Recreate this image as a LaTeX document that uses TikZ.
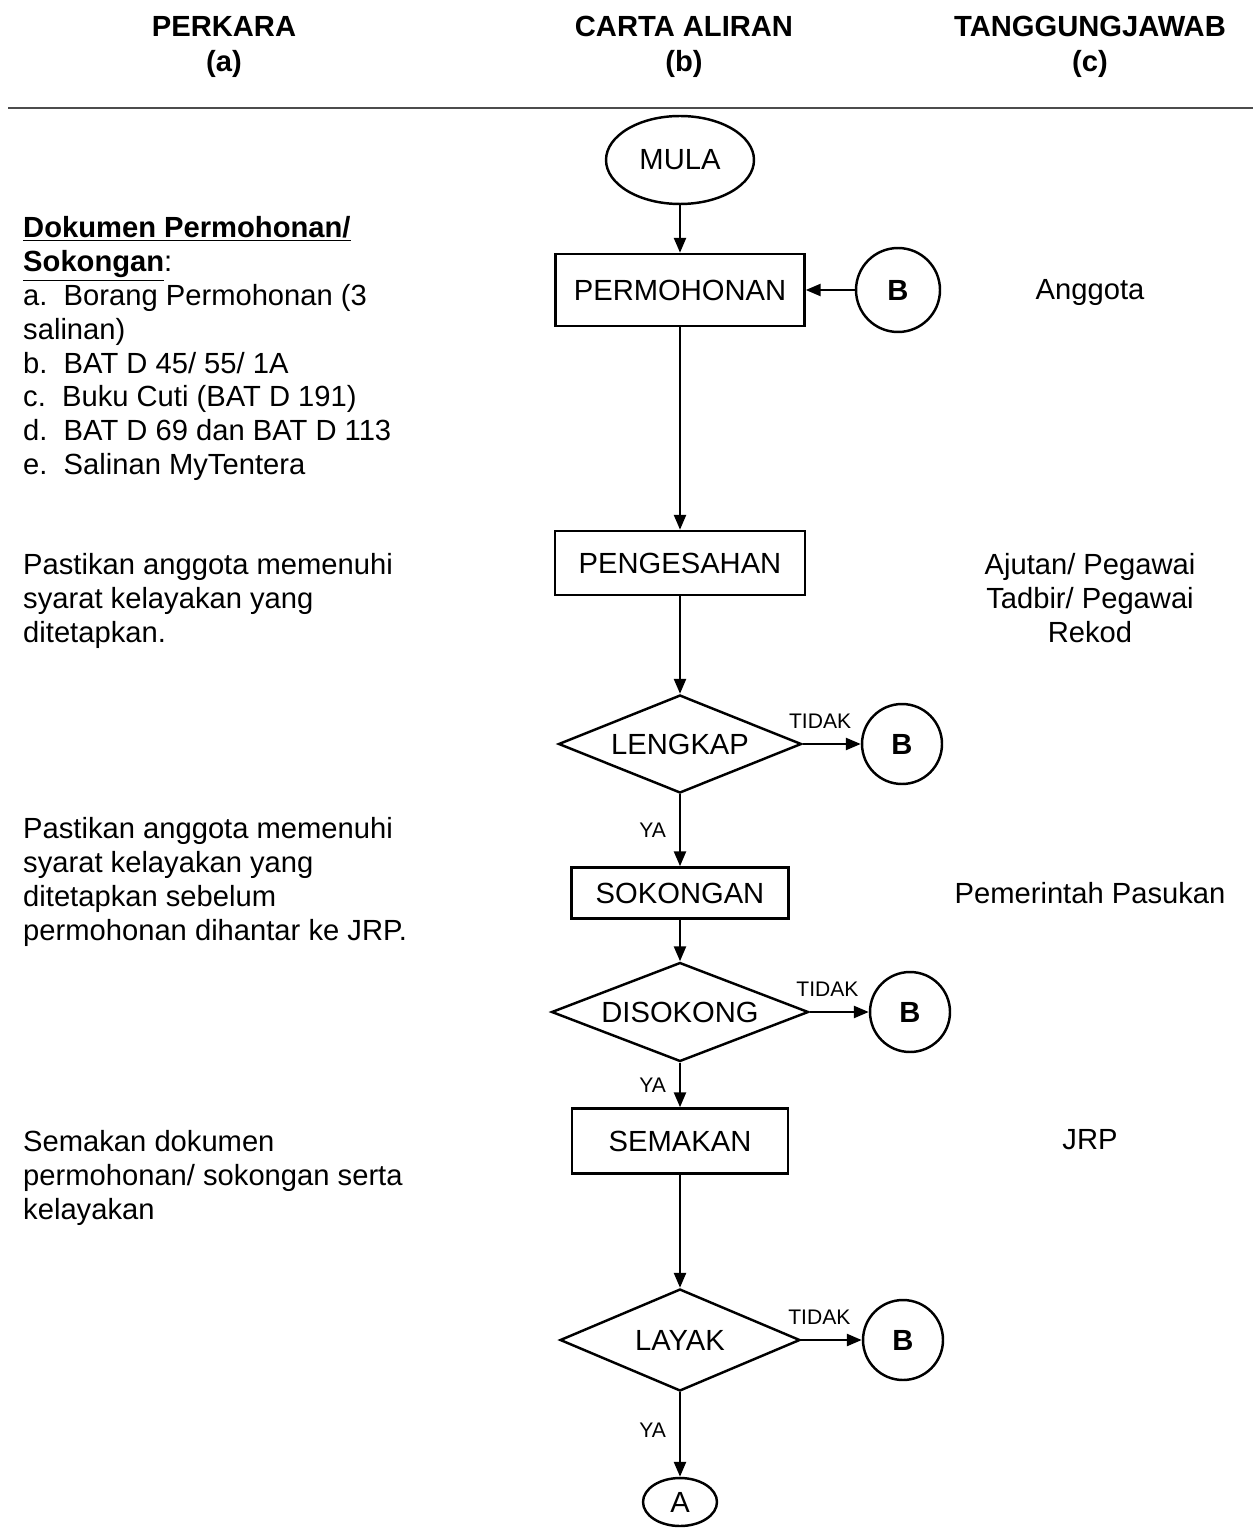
\documentclass[tikz,border=0pt]{standalone}
\usepackage{fontspec}
\setmainfont{Liberation Sans}
\usetikzlibrary{shapes.geometric,arrows.meta}

\begin{document}
\begin{tikzpicture}[x=0.02cm, y=-0.02cm, line width=1.4pt,
  every node/.style={font=\fontsize{16.6}{19.3}\selectfont},
  kotak/.style={draw, rectangle, inner sep=0pt},
  keputusan/.style={draw, diamond, inner sep=0pt, aspect=2.5},
  bulat/.style={draw, circle, inner sep=0pt, minimum size=1.6cm, font=\fontsize{16.6}{19.3}\selectfont\bfseries},
  tajuk/.style={anchor=north, align=center, font=\fontsize{16.6}{19.9}\selectfont\bfseries},
  anak/.style={-{Triangle[length=0.3cm,width=0.24cm]}},
  kecil/.style={font=\fontsize{12}{14}\selectfont}]
            \useasboundingbox (0,0) rectangle (1259,1530);

            % tajuk
            \node (h1) at (224,9) [tajuk] {PERKARA\\(a)};
            \node (h2) at (684,9) [tajuk] {CARTA ALIRAN\\(b)};
            \node (h3) at (1090,9) [tajuk] {TANGGUNGJAWAB\\(c)};
            \draw[line width=0.7pt, black!70] (8,108) -- (1253,108);

            % carta aliran
            \node (mula) at (680,160) [draw,ellipse,inner sep=0pt,minimum width=2.96cm,minimum height=1.76cm] {MULA};
            \node (perm) at (680,290) [kotak,minimum width=4.98cm,minimum height=1.44cm] {PERMOHONAN};
            \node (b1) at (898,290) [bulat,minimum size=1.68cm] {B};
            \node (peng) at (680,563) [kotak,minimum width=5.0cm,minimum height=1.28cm] {PENGESAHAN};
            \node (lengkap) at (680,744) [keputusan,minimum width=4.86cm,minimum height=1.96cm] {LENGKAP};
            \node (b2) at (902,744) [bulat] {B};
            \node (sokong) at (680,893) [kotak,minimum width=4.34cm,minimum height=1.02cm] {SOKONGAN};
            \node (disokong) at (680,1012) [keputusan,minimum width=5.14cm,minimum height=1.98cm] {DISOKONG};
            \node (b3) at (910,1012) [bulat] {B};
            \node (semak) at (680,1141) [kotak,minimum width=4.32cm,minimum height=1.3cm] {SEMAKAN};
            \node (layak) at (680,1340) [keputusan,minimum width=4.8cm,minimum height=2.04cm] {LAYAK};
            \node (b4) at (903,1340) [bulat] {B};
            \node (a) at (680,1502) [draw,ellipse,inner sep=0pt,minimum width=1.48cm,minimum height=0.96cm] {A};

            \draw[anak] (mula) -- (perm);
            \draw[anak] (b1) -- (perm);
            \draw[anak] (perm) -- (peng);
            \draw[anak] (peng) -- (lengkap);
            \draw[anak] (lengkap) -- node[kecil,above=5pt,pos=0.3] {TIDAK} (b2);
            \draw[anak] (lengkap) -- node[kecil,left=4pt] {YA} (sokong);
            \draw[anak] (sokong) -- (disokong);
            \draw[anak] (disokong) -- node[kecil,above=5pt,pos=0.3] {TIDAK} (b3);
            \draw[anak] (disokong) -- node[kecil,left=4pt] {YA} (semak);
            \draw[anak] (semak) -- (layak);
            \draw[anak] (layak) -- node[kecil,above=5pt,pos=0.3] {TIDAK} (b4);
            \draw[anak] (layak) -- node[kecil,left=4pt,pos=0.45] {YA} (a);

            % perkara
            \node (p1) at (22,215) [anchor=north west,inner sep=0pt,align=left] {\textbf{\underline{Dokumen Permohonan/}}\\
              \textbf{\underline{Sokongan}}:\\
              a.~~Borang Permohonan (3\\
              salinan)\\
              b.~~BAT D 45/ 55/ 1A\\
              c.~~Buku Cuti (BAT D 191)\\
              d.~~BAT D 69 dan BAT D 113\\
              e.~~Salinan MyTentera};
            \node (p2) at (22,552) [anchor=north west,inner sep=0pt,align=left] {Pastikan anggota memenuhi\\
              syarat kelayakan yang\\
              ditetapkan.};
            \node (p3) at (22,816) [anchor=north west,inner sep=0pt,align=left] {Pastikan anggota memenuhi\\
              syarat kelayakan yang\\
              ditetapkan sebelum\\
              permohonan dihantar ke JRP.};
            \node (p4) at (22,1129) [anchor=north west,inner sep=0pt,align=left] {Semakan dokumen\\
              permohonan/ sokongan serta\\
              kelayakan};

            % tanggungjawab
            \node (t1) at (1090,292) {Anggota};
            \node (t2) at (1090,552) [anchor=north,inner sep=0pt,align=center] {Ajutan/ Pegawai\\
              Tadbir/ Pegawai\\
              Rekod};
            \node (t3) at (1090,893) {Pemerintah Pasukan};
            \node (t4) at (1090,1140) {JRP};
        		\end{tikzpicture}
\end{document}
